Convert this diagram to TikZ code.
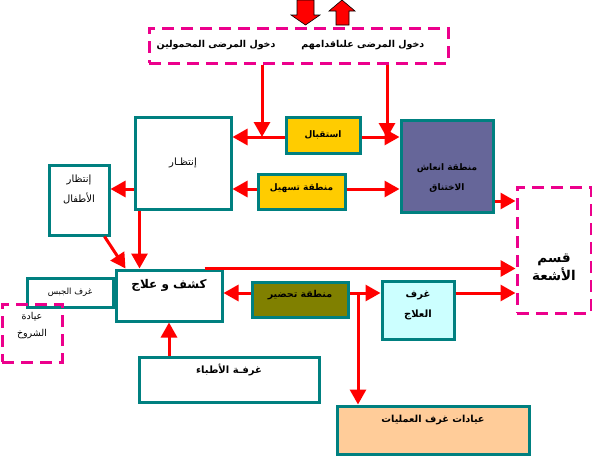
\documentclass[tikz,border=0pt]{standalone}
\usepackage{fontspec}
\usepackage{xcolor}
\usetikzlibrary{arrows.meta}
\newfontfamily\arabicfont[Script=Arabic]{DejaVu Sans}
\TeXXeTstate=1
\newcommand{\artext}[1]{\beginR #1\endR}
\definecolor{roomteal}{HTML}{008080}
\definecolor{deskyellow}{HTML}{FFCC00}
\definecolor{resusblue}{HTML}{666699}
\definecolor{prepolive}{HTML}{808000}
\definecolor{treatcyan}{HTML}{CCFFFF}
\definecolor{opspeach}{HTML}{FFCC99}

\begin{document}
\begin{tikzpicture}[x=1pt,y=-1pt]
\tikzstyle{room} = [rectangle, draw=roomteal, fill=white, line width=3pt, inner sep=0pt, align=center, font=\arabicfont\fontsize{10}{20}\selectfont]
\tikzstyle{desk} = [room, fill=deskyellow, font=\arabicfont\bfseries\fontsize{9}{20}\selectfont]
\tikzstyle{outside} = [rectangle, draw=magenta, line width=3pt, dash pattern=on 12pt off 7pt, inner sep=0pt, align=center, font=\arabicfont\fontsize{9.5}{17}\selectfont]
\tikzstyle{flow} = [draw=red, line width=3pt, -{Triangle[length=15pt,width=16pt]}]
\tikzstyle{bigarrow} = [fill=red, draw=black, line width=0.6pt]

\useasboundingbox (0,0) rectangle (592,456);

% entrances
\draw[bigarrow] (297,0) -- (314,0) -- (314,15) -- (320,15) -- (305.5,25) -- (291,15) -- (297,15) -- cycle;
\draw[bigarrow] (342,0) -- (355,11) -- (349,11) -- (349,25) -- (336,25) -- (336,11) -- (329,11) -- cycle;
\node(entry) [outside, minimum width=299pt, minimum height=35pt, font=\arabicfont\bfseries\fontsize{9.5}{11}\selectfont] at (298.5,45.5)
  {\artext{دخول المرضى المحمولين}\hspace{26pt}\artext{دخول المرضى علىاقدامهم}\hspace*{16pt}};

% rooms
\node(waiting) [room, minimum width=96pt, minimum height=92pt] at (183,163) {\artext{إنتظـار}};
\node(reception) [desk, minimum width=74pt, minimum height=36pt] at (323,135) {\artext{استقبال}};
\node(easing) [desk, minimum width=87pt, minimum height=35pt, text depth=9pt] at (301.5,191.5) {\artext{منطقة تسهيل}};
\node(resus) [room, fill=resusblue, minimum width=92pt, minimum height=92pt, text height=51pt, font=\arabicfont\bfseries\fontsize{9}{20}\selectfont] at (447,166)
  {\artext{منطقة انعاش}\\\artext{الاختناق}};
\node(radiology) [outside, minimum width=74pt, minimum height=126pt, text height=62pt, font=\arabicfont\bfseries\fontsize{13.5}{18}\selectfont] at (554,250)
  {\artext{قسم}\\\artext{الأشعة}};
\node(children) [room, minimum width=60pt, minimum height=70pt, text depth=23pt] at (79,200)
  {\artext{إنتظار}\\\artext{الأطفال}};
\node(kashf) [room, minimum width=106pt, minimum height=51pt, text depth=23pt, font=\arabicfont\bfseries\fontsize{12}{14}\selectfont] at (169,295.5) {\artext{كشف و علاج}};
\node(cast) [room, anchor=east, minimum width=86pt, minimum height=29pt, font=\arabicfont\fontsize{8.5}{10}\selectfont] at (kashf.west |- 0,292.5) {\artext{غرف الجبس}};
\node(fracture) [outside, minimum width=60pt, minimum height=58pt, text depth=17pt] at (32,333)
  {\artext{عيادة}\\\artext{الشروخ}};
\node(prep) [desk, fill=prepolive, minimum width=96pt, minimum height=35pt, text depth=12pt, font=\arabicfont\bfseries\fontsize{9.5}{11}\selectfont] at (300,299.5) {\artext{منطقة تحضير}};
\node(treatment) [room, fill=treatcyan, minimum width=72pt, minimum height=58pt, text depth=11pt, font=\arabicfont\bfseries\fontsize{10}{20}\selectfont] at (418,310)
  {\artext{غرف}\\\artext{العلاج}};
\node(doctors) [room, minimum width=180pt, minimum height=45pt, text depth=21pt, font=\arabicfont\bfseries\fontsize{10}{12}\selectfont] at (229,379.5) {\artext{غرفـة الأطباء}};
\node(ops) [room, fill=opspeach, minimum width=192pt, minimum height=48pt, text depth=22pt, font=\arabicfont\bfseries\fontsize{9.7}{12}\selectfont] at (433,430) {\artext{عيادات غرف العمليات}};

% rows and drops for the connectors
\coordinate (row1) at (0,137);
\coordinate (row2) at (0,189);
\coordinate (row3) at (0,201);
\coordinate (row5) at (0,293);
\coordinate (drop1) at (262,137);
\coordinate (drop2) at (387,138);
\coordinate (split) at (358,293);
\coordinate (wdrop) at ([xshift=6pt]waiting.south west);
\coordinate (kstart) at ([xshift=-19pt]kashf.north east);

\draw[flow] (entry.south -| drop1) -- (drop1);
\draw[flow] (entry.south -| drop2) -- (drop2);
\draw[flow] (reception.west |- row1) -- (waiting.east |- row1);
\draw[flow] (reception.east |- row1) -- (resus.west |- row1);
\draw[flow] (easing.west |- row2) -- (waiting.east |- row2);
\draw[flow] (easing.east |- row2) -- (resus.west |- row2);
\draw[flow] (waiting.west |- row2) -- (children.east |- row2);
\draw[flow] (resus.east |- row3) -- (radiology.west |- row3);
\draw[flow] ([xshift=-6pt]children.south east) -- ([xshift=11pt]kashf.north west);
\draw[flow] (wdrop) -- (wdrop |- kashf.north);
\draw[flow] (kstart) -- (radiology.west |- kstart);
\draw[flow] (prep.west |- row5) -- (kashf.east |- row5);
\draw[flow] (prep.east |- row5) -- (treatment.west |- row5);
\draw[flow] (split) -- (split |- ops.north);
\draw[flow] (treatment.east |- row5) -- (radiology.west |- row5);
\draw[flow] (kashf.south |- doctors.north) -- (kashf.south);
\end{tikzpicture}
\end{document}
